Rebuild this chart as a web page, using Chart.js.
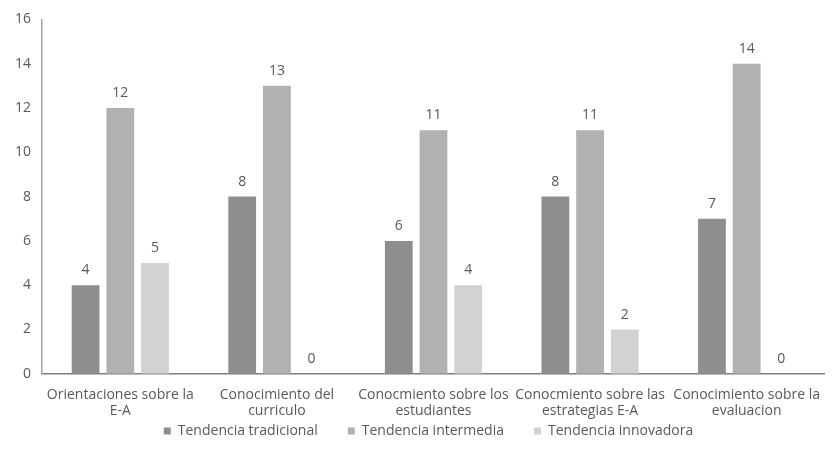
<!DOCTYPE html>
<html>
<head>
<meta charset="utf-8">
<script src="https://cdn.jsdelivr.net/npm/chart.js@4.4.1/dist/chart.umd.min.js"></script>
<style>
html,body{margin:0;padding:0;background:#fff;}
#wrap{width:833px;height:464px;position:relative;}
</style>
</head>
<body>
<div id="wrap"><canvas id="c" width="833" height="464"></canvas></div>
<script>
const categories = [
  ["Orientaciones sobre la", "E-A"],
  ["Conocimiento del", "curriculo"],
  ["Conocmiento sobre los", "estudiantes"],
  ["Conocmiento sobre las", "estrategias E-A"],
  ["Conocimiento sobre la", "evaluacion"]
];
const seriesNames = ["Tendencia tradicional", "Tendencia intermedia", "Tendencia innovadora"];
const tradicional = [4, 8, 6, 8, 7];
const intermedia = [12, 13, 11, 11, 14];
const innovadora = [5, 0, 4, 2, 0];
const yTicks = [0, 2, 4, 6, 8, 10, 12, 14, 16];

const colors = ["#8e8e90", "#b1b1b2", "#d2d2d4"];
const textColor = "#595959";
const fontFamily = "'Open Sans', 'Noto Sans', sans-serif";

const LEGEND_PAD = 30;      // horizontal gap between legend items
const LEGEND_SHRINK = 42;   // reserved height removed from the legend box
const LEGEND_LIFT = 38;     // items drawn higher inside the legend box
const LEGEND_SHIFT_X = 10;  // small horizontal nudge of the legend row

const valueLabels = {
  id: 'valueLabels',
  afterDatasetsDraw(chart) {
    const ctx = chart.ctx;
    ctx.save();
    ctx.font = "14px " + fontFamily;
    ctx.fillStyle = textColor;
    ctx.textAlign = 'center';
    ctx.textBaseline = 'alphabetic';
    chart.data.datasets.forEach((ds, i) => {
      const meta = chart.getDatasetMeta(i);
      meta.data.forEach((bar, j) => {
        ctx.fillText(String(ds.data[j]), bar.x, bar.y - 11);
      });
    });
    ctx.restore();
  }
};

const legendTweak = {
  id: 'legendTweak',
  beforeLayout(chart) {
    const lg = chart.legend;
    if (lg && !lg._tweaked) {
      const origFit = lg.fit.bind(lg);
      lg.fit = function () { origFit(); this.height = Math.max(this.height - LEGEND_SHRINK, 0); };
      const origDraw = lg.draw.bind(lg);
      lg.draw = function () {
        const t = this.top, l = this.left, r = this.right;
        this.top = t - LEGEND_LIFT;
        this.left = l + LEGEND_SHIFT_X;
        this.right = r + LEGEND_SHIFT_X;
        origDraw();
        this.top = t; this.left = l; this.right = r;
      };
      lg._tweaked = true;
    }
  }
};

new Chart(document.getElementById('c'), {
  type: 'bar',
  data: {
    labels: categories,
    datasets: [
      { label: seriesNames[0], data: tradicional, backgroundColor: colors[0] },
      { label: seriesNames[1], data: intermedia, backgroundColor: colors[1] },
      { label: seriesNames[2], data: innovadora, backgroundColor: colors[2] }
    ]
  },
  options: {
    responsive: false,
    animation: false,
    devicePixelRatio: 1,
    layout: { padding: { left: 4, right: 0, top: 4, bottom: 20 } },
    datasets: { bar: { categoryPercentage: 0.665, barPercentage: 0.8 } },
    scales: {
      x: {
        grid: { display: false, drawTicks: false },
        border: { display: true, color: "#7f7f7f", width: 1.5 },
        ticks: { color: textColor, font: { family: fontFamily, size: 14, lineHeight: 1.15 }, padding: 13, maxRotation: 0, autoSkip: false }
      },
      y: {
        min: 0, max: 16,
        afterBuildTicks(axis) { axis.ticks = yTicks.map(v => ({ value: v })); },
        grid: { display: false, drawTicks: false },
        border: { display: true, color: "#a6a6a6", width: 1.5 },
        ticks: { color: textColor, font: { family: fontFamily, size: 14 }, padding: 11 }
      }
    },
    plugins: {
      legend: {
        position: 'bottom',
        labels: {
          color: textColor,
          font: { family: fontFamily, size: 14 },
          boxWidth: 7, boxHeight: 7, padding: LEGEND_PAD
        }
      },
      tooltip: { enabled: false }
    }
  },
  plugins: [valueLabels, legendTweak]
});
</script>
</body>
</html>
